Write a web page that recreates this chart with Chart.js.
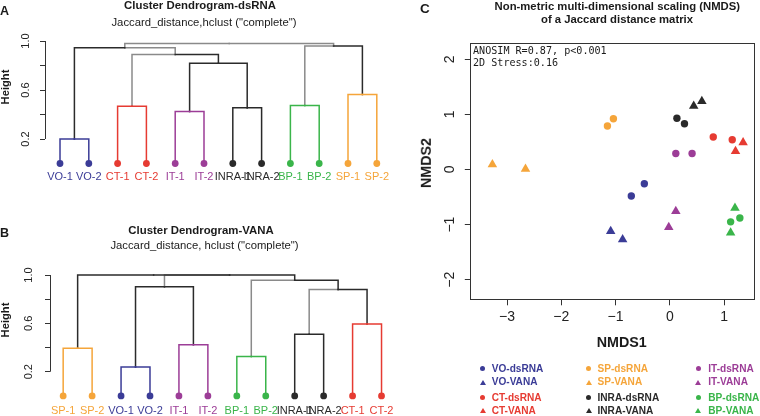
<!DOCTYPE html>
<html><head><meta charset="utf-8">
<script src="https://cdn.jsdelivr.net/npm/chart.js@4/dist/chart.umd.min.js"></script>
<style>
html,body{margin:0;padding:0;background:#fff;}
#wrap{position:relative;width:760px;height:416px;overflow:hidden;font-family:"Liberation Sans",Arial,sans-serif;color:#1a1a1a;}
canvas{position:absolute;}
.t{position:absolute;white-space:nowrap;line-height:1;transform:translate(-50%,-50%);}
.l{position:absolute;white-space:nowrap;line-height:1;transform:translate(0,-50%);}
.r{position:absolute;white-space:nowrap;line-height:1;transform:translate(-50%,-50%) rotate(-90deg);}
.mk{position:absolute;}
</style></head>
<body><div id="wrap">
<canvas id="chartA" width="400" height="200" style="left:0;top:0"></canvas>
<canvas id="chartB" width="400" height="216" style="left:0;top:200px"></canvas>
<canvas id="chartC" width="360" height="416" style="left:400px;top:0"></canvas>

<div class="l" style="left:0;top:11px;font-weight:bold;font-size:12.5px">A</div>
<div class="t" style="left:200px;top:6px;font-weight:bold;font-size:11.4px">Cluster Dendrogram-dsRNA</div>
<div class="t" style="left:204px;top:23px;font-size:11.3px">Jaccard_distance,hclust ("complete")</div>
<div class="r" style="left:6px;top:86.5px;font-weight:bold;font-size:11.2px">Height</div>

<div class="l" style="left:0;top:233px;font-weight:bold;font-size:12.5px">B</div>
<div class="t" style="left:201px;top:230.7px;font-weight:bold;font-size:11.4px">Cluster Dendrogram-VANA</div>
<div class="t" style="left:204.5px;top:245.5px;font-size:11.3px">Jaccard_distance, hclust ("complete")</div>
<div class="r" style="left:5.5px;top:320px;font-weight:bold;font-size:11.2px">Height</div>

<div class="l" style="left:420px;top:8.5px;font-weight:bold;font-size:13.5px">C</div>
<div class="t" style="left:617.3px;top:7.2px;font-weight:bold;font-size:11.3px">Non-metric multi-dimensional scaling (NMDS)</div>
<div class="t" style="left:617px;top:19.7px;font-weight:bold;font-size:11.3px">of a Jaccard distance matrix</div>
<div class="l" style="left:473px;top:50.7px;font-family:'DejaVu Sans Mono',monospace;font-size:10.1px">ANOSIM R=0.87, p&lt;0.001</div>
<div class="l" style="left:473px;top:63.3px;font-family:'DejaVu Sans Mono',monospace;font-size:10.1px">2D Stress:0.16</div>
<div class="t" style="left:621.7px;top:342px;font-weight:bold;font-size:14.3px">NMDS1</div>
<div class="r" style="left:426px;top:163.3px;font-weight:bold;font-size:14.3px">NMDS2</div>
<div id="legend"></div>
</div>
<script>
// ---------- colours ----------
const BLUE = '#3b3c97', RED = '#e63b32', PURPLE = '#9c3d97', BLACK = '#2a2a2a', GREEN = '#3ab54a', ORANGE = '#f5a53a';
const DARK = '#2b2b2b', GRAY = '#8a8a8a';

// ---------- Panel A: dsRNA dendrogram ----------
const dsLabels = ['VO-1','VO-2','CT-1','CT-2','IT-1','IT-2','INRA-1','INRA-2','BP-1','BP-2','SP-1','SP-2'];
const dsLeafColors = [BLUE,BLUE,RED,RED,PURPLE,PURPLE,BLACK,BLACK,GREEN,GREEN,ORANGE,ORANGE];
// hclust-style merge list: negative = leaf (1-based display order), positive = earlier merge
const dsMerge = [[-1,-2],[-5,-6],[-7,-8],[-3,-4],[-9,-10],[-11,-12],[2,3],[4,7],[1,8],[5,6],[9,10]];
const dsHeight = [0.20,0.425,0.455,0.468,0.474,0.563,0.818,0.89,0.945,0.959,0.98];
const dsEdgeColors = [DARK,DARK,DARK,GRAY,GRAY,DARK,DARK,GRAY,GRAY,GRAY,GRAY];

// ---------- Panel B: VANA dendrogram ----------
const vaLabels = ['SP-1','SP-2','VO-1','VO-2','IT-1','IT-2','BP-1','BP-2','INRA-1','INRA-2','CT-1','CT-2'];
const vaLeafColors = [ORANGE,ORANGE,BLUE,BLUE,PURPLE,PURPLE,GREEN,GREEN,BLACK,BLACK,RED,RED];
const vaMerge = [[-3,-4],[-7,-8],[-1,-2],[-5,-6],[-9,-10],[-11,-12],[5,6],[1,4],[2,7],[8,9],[3,10]];
const vaHeight = [0.24,0.325,0.394,0.424,0.51,0.595,0.88,0.903,0.956,1.0,1.0];
const vaEdgeColors = [DARK,GRAY,DARK,DARK,GRAY,DARK,DARK,GRAY,DARK,DARK,DARK];

const heightTicks = [0.2,0.4,0.6,0.8,1.0];
const heightTickLabels = ['0.2','','0.6','','1.0'];

// ---------- Panel C: NMDS ----------
const vo_dsRNA   = [[-0.71,-0.48],[-0.47,-0.26]];
const vo_VANA    = [[-1.09,-1.12],[-0.87,-1.27]];
const ct_dsRNA   = [[0.80,0.59],[1.15,0.54]];
const ct_VANA    = [[1.35,0.49],[1.21,0.33]];
const sp_dsRNA   = [[-1.15,0.79],[-1.04,0.92]];
const sp_VANA    = [[-3.27,0.09],[-2.66,0.01]];
const inra_dsRNA = [[0.13,0.93],[0.27,0.83]];
const inra_VANA  = [[0.44,1.15],[0.59,1.24]];
const it_dsRNA   = [[0.11,0.29],[0.41,0.29]];
const it_VANA    = [[0.11,-0.76],[-0.02,-1.05]];
const bp_dsRNA   = [[1.12,-0.95],[1.29,-0.88]];
const bp_VANA    = [[1.20,-0.70],[1.12,-1.15]];
const nmdsXTicks = [-3,-2,-1,0,1];
const nmdsXTickLabels = ['\u22123','\u22122','\u22121','0','1'];
const nmdsYTicks = [-2,-1,0,1,2];
const nmdsYTickLabels = ['\u22122','\u22121','0','1','2'];

const series = [
  {name:'VO-dsRNA', pts:vo_dsRNA, color:BLUE, shape:'circle'},
  {name:'VO-VANA', pts:vo_VANA, color:BLUE, shape:'triangle'},
  {name:'CT-dsRNA', pts:ct_dsRNA, color:RED, shape:'circle'},
  {name:'CT-VANA', pts:ct_VANA, color:RED, shape:'triangle'},
  {name:'SP-dsRNA', pts:sp_dsRNA, color:ORANGE, shape:'circle'},
  {name:'SP-VANA', pts:sp_VANA, color:ORANGE, shape:'triangle'},
  {name:'INRA-dsRNA', pts:inra_dsRNA, color:BLACK, shape:'circle'},
  {name:'INRA-VANA', pts:inra_VANA, color:BLACK, shape:'triangle'},
  {name:'IT-dsRNA', pts:it_dsRNA, color:PURPLE, shape:'circle'},
  {name:'IT-VANA', pts:it_VANA, color:PURPLE, shape:'triangle'},
  {name:'BP-dsRNA', pts:bp_dsRNA, color:GREEN, shape:'circle'},
  {name:'BP-VANA', pts:bp_VANA, color:GREEN, shape:'triangle'}
];

// ---------- plugins ----------
const axisSpan = {
  id:'axisSpan',
  afterDraw(chart, args, opts){
    if (opts.from === undefined) return;
    const ys = chart.scales.y, ctx = chart.ctx;
    const x = Math.round(chart.chartArea.left - 0.5) + 0.5;
    ctx.save(); ctx.strokeStyle = '#333'; ctx.lineWidth = 1;
    ctx.beginPath(); ctx.moveTo(x, ys.getPixelForValue(opts.from)); ctx.lineTo(x, ys.getPixelForValue(opts.to)); ctx.stroke();
    ctx.restore();
  }
};
const boxPlugin = {
  id:'boxPlugin',
  afterDraw(chart, args, opts){
    if (!opts.on) return;
    const a = chart.chartArea, ctx = chart.ctx;
    const l = Math.round(a.left - 0.5) + 0.5, r = Math.round(a.right - 0.5) + 0.5;
    const t = Math.round(a.top - 0.5) + 0.5, b = Math.round(a.bottom - 0.5) + 0.5;
    ctx.save(); ctx.strokeStyle = '#333'; ctx.lineWidth = 1;
    ctx.strokeRect(l, t, r - l, b - t); ctx.restore();
  }
};

// ---------- dendrogram builder ----------
function dendroDatasets(merge, heights, leafColors, edgeColors){
  const nodeX = [], ds = [];
  const pos = c => c < 0 ? {x:-c, h:0} : {x:nodeX[c-1], h:heights[c-1]};
  merge.forEach(([a,b],k) => { nodeX[k] = (pos(a).x + pos(b).x) / 2; });
  merge.forEach(([a,b],k) => {
    [a,b].forEach(c => {
      const p = pos(c);
      const col = c < 0 ? leafColors[-c-1] : edgeColors[c-1];
      ds.push({
        data:[{x:nodeX[k], y:heights[k]},{x:p.x, y:heights[k]},{x:p.x, y:p.h}],
        showLine:true, borderColor:col, borderWidth:1.5, pointRadius:0,
        borderJoinStyle:'miter', borderCapStyle:'square', tension:0, clip:false,
        order: col === GRAY ? 3 : 2
      });
    });
  });
  ds.push({
    data: leafColors.map((c,i) => ({x:i+1, y:0})),
    pointRadius:3.4, pointBorderWidth:0, pointBackgroundColor:leafColors,
    pointStyle:'circle', showLine:false, clip:false, order:1
  });
  return ds;
}

function dendroChart(id, labels, merge, heights, leafColors, edgeColors, L){
  return new Chart(document.getElementById(id), {
    type:'scatter',
    data:{datasets: dendroDatasets(merge, heights, leafColors, edgeColors)},
    options:{
      responsive:false, animation:false, events:[],
      layout:{padding:{left:0, right:L.padRight, top:L.padTop, bottom:0}},
      plugins:{legend:{display:false}, tooltip:{enabled:false}, axisSpan:{from:heightTicks[0], to:heightTicks[heightTicks.length-1]}, boxPlugin:{on:false}},
      scales:{
        x:{type:'linear', min:L.xMin, max:L.xMax,
          afterBuildTicks: s => { s.ticks = labels.map((_,i) => ({value:i+1})); },
          afterFit: s => { s.height = L.xHeight; },
          grid:{display:false, drawTicks:false}, border:{display:false},
          ticks:{autoSkip:false, minRotation:0, maxRotation:0, padding:L.xPad,
            font:{size:11, family:'"Liberation Sans", Arial, sans-serif'},
            color: c => leafColors[c.index], callback:(v,i) => labels[i]}
        },
        y:{type:'linear', min:-0.02, max:1.02,
          afterBuildTicks: s => { s.ticks = heightTicks.map(v => ({value:v})); },
          afterFit: s => { s.width = L.yWidth; },
          grid:{drawOnChartArea:false, drawTicks:true, tickLength:5, color:'#333', lineWidth:1}, border:{display:false},
          ticks:{autoSkip:false, minRotation:90, maxRotation:90, crossAlign:'center', padding:L.yPad,
            font:{size:11, family:'"Liberation Sans", Arial, sans-serif'}, color:'#222',
            callback:(v,i) => heightTickLabels[i]}
        }
      }
    },
    plugins:[axisSpan, boxPlugin]
  });
}

dendroChart('chartA', dsLabels, dsMerge, dsHeight, dsLeafColors, dsEdgeColors,
  {xMin:0.479, xMax:12.5, padRight:8.8, padTop:38.55, xHeight:34.05, xPad:4.1, yWidth:45, yPad:6.4});
dendroChart('chartB', vaLabels, vaMerge, vaHeight, vaLeafColors, vaEdgeColors,
  {xMin:0.545, xMax:12.5, padRight:0.4, padTop:72.6, xHeight:17.7, xPad:5.8, yWidth:50, yPad:8.4});

// ---------- NMDS chart ----------
new Chart(document.getElementById('chartC'), {
  type:'scatter',
  data:{datasets: series.map(s => ({
    label:s.name,
    data: s.pts.map(([x,y]) => ({x, y})),
    pointStyle:s.shape, pointRadius: s.shape === 'circle' ? 3.7 : 5.5,
    pointBackgroundColor:s.color, pointBorderWidth:0, clip:false
  }))},
  options:{
    responsive:false, animation:false, events:[],
    layout:{padding:{left:0, right:0.5, top:43.3, bottom:0}},
    plugins:{legend:{display:false}, tooltip:{enabled:false}, boxPlugin:{on:true}},
    scales:{
      x:{type:'linear', min:-3.677, max:1.56,
        afterBuildTicks: s => { s.ticks = nmdsXTicks.map(v => ({value:v})); },
        afterFit: s => { s.height = 116.7; },
        grid:{drawOnChartArea:false, drawTicks:true, tickLength:6, color:'#333'}, border:{display:false},
        ticks:{autoSkip:false, minRotation:0, maxRotation:0, padding:3,
          font:{size:14, family:'"Liberation Sans", Arial, sans-serif'}, color:'#222',
          callback:(v,i) => nmdsXTickLabels[i]}
      },
      y:{type:'linear', min:-2.356, max:2.29,
        afterBuildTicks: s => { s.ticks = nmdsYTicks.map(v => ({value:v})); },
        afterFit: s => { s.width = 70.3; },
        grid:{drawOnChartArea:false, drawTicks:true, tickLength:5.5, color:'#333'}, border:{display:false},
        ticks:{autoSkip:false, minRotation:90, maxRotation:90, crossAlign:'center', padding:6.8,
          font:{size:14, family:'"Liberation Sans", Arial, sans-serif'}, color:'#222',
          callback:(v,i) => nmdsYTickLabels[i]}
      }
    }
  },
  plugins:[boxPlugin]
});

// ---------- legend (3 columns, column-major) ----------
const legCols = [{mk:482.7, tx:491.7},{mk:588.7, tx:597.5},{mk:698.3, tx:708.3}];
const legRows = [369.3, 382.3, 397.7, 411];
const leg = document.getElementById('legend');
series.forEach((s,k) => {
  const c = legCols[Math.floor(k/4)], y = legRows[k%4];
  const m = document.createElement('div');
  m.className = 'mk';
  if (s.shape === 'circle') {
    m.style.cssText = `left:${c.mk-2.5}px;top:${y-3}px;width:5px;height:5px;border-radius:50%;background:${s.color}`;
  } else {
    m.style.cssText = `left:${c.mk-3}px;top:${y-2.8}px;width:0;height:0;border-left:3px solid transparent;border-right:3px solid transparent;border-bottom:5px solid ${s.color}`;
  }
  leg.appendChild(m);
  const t = document.createElement('div');
  t.className = 'l';
  t.style.cssText = `left:${c.tx}px;top:${y}px;font-weight:bold;font-size:10.1px;color:${s.color}`;
  t.textContent = s.name;
  leg.appendChild(t);
});
</script>
</body></html>
